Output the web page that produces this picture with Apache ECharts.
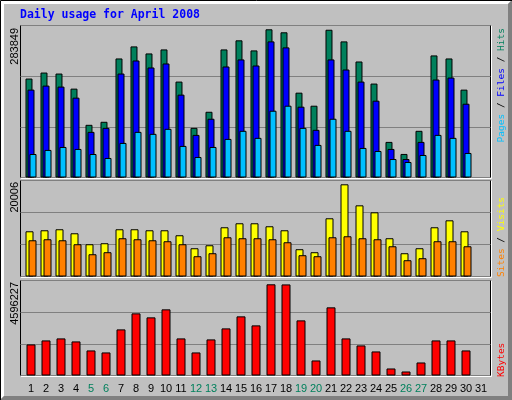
<!DOCTYPE html>
<html>
<head>
<meta charset="utf-8">
<script src="https://cdn.jsdelivr.net/npm/echarts@6/dist/echarts.min.js"></script>
<style>
  html, body { margin: 0; padding: 0; background: #c0c0c0; }
  #chart { width: 512px; height: 400px; }
</style>
</head>
<body>
<div id="chart"></div>
<script>
// daily usage, April 2008 (day 31 has no data)
var days = ['1', '2', '3', '4', '5', '6', '7', '8', '9', '10', '11', '12', '13', '14', '15', '16',
  '17', '18', '19', '20', '21', '22', '23', '24', '25', '26', '27', '28', '29', '30', '31']
var weekend = ['5', '6', '12', '13', '19', '20', '26', '27']

var hits = [189500, 201000, 199100, 170200, 100900, 106700, 228000, 251100, 237600, 245300, 183700,
  95100, 125900, 245300, 262700, 243400, 283849, 278100, 162500, 137500, 283000, 260700, 222200,
  179900, 68200, 45100, 89400, 233800, 228000, 168300, null]
var files = [168300, 176000, 174100, 152900, 87400, 95100, 199100, 224100, 210700, 218400, 158700,
  81600, 112500, 212600, 226100, 214500, 260700, 249200, 135600, 91300, 226100, 206800, 183700,
  147100, 54700, 35400, 68200, 187600, 191400, 141300, null]
var pages = [45000, 52800, 58500, 54700, 45000, 37400, 66200, 87400, 83600, 93200, 60500, 39300,
  58500, 73900, 89400, 75900, 127900, 137500, 95100, 62400, 112500, 89400, 56600, 50800, 35400,
  29700, 43100, 81600, 75900, 47000, null]
var visits = [9810, 10030, 10250, 9380, 7000, 7220, 10250, 10250, 10030, 10030, 8950, 6130, 6780,
  10680, 11550, 11550, 10900, 10030, 5920, 5270, 12630, 20006, 15440, 13930, 8300, 5050, 6130,
  10680, 12190, 9810, null]
var sites = [7860, 8080, 7860, 7000, 4830, 5270, 8300, 8080, 7860, 7650, 7000, 4400, 5050, 8510,
  8300, 8300, 8080, 7430, 4620, 4400, 8510, 8730, 8300, 8080, 6560, 3530, 3970, 7650, 7650, 6560, null]
var kbytes = [1565700, 1767800, 1868800, 1717300, 1262700, 1161700, 2323400, 3131500, 2929500,
  3333500, 1868800, 1161700, 1818300, 2373900, 2980000, 2525400, 4596227, 4590000, 2777900, 757600,
  3434500, 1868800, 1515200, 1212200, 353600, 202000, 656600, 1767800, 1767800, 1262700, null]

var maxOf = function (arr) {
  return Math.max.apply(null, arr.filter(function (v) { return v != null }))
}
var maxHits = maxOf(hits)
var maxVisits = maxOf(visits)
var maxKb = maxOf(kbytes)

// panels: [top, height, axis headroom]
var panels = [
  { top: 25.5, height: 152, max: maxHits * 152 / 148.2 },
  { top: 180.5, height: 96, max: maxVisits * 96 / 92.2 },
  { top: 280.5, height: 95, max: maxKb * 95 / 91.2 }
]

var grids = []
var xAxes = []
var yAxes = []
panels.forEach(function (p, i) {
  // frame grid with the grey index lines
  grids.push({ left: 20.5, top: p.top, width: 470, height: p.height, show: true,
    borderColor: '#000', borderWidth: 1, backgroundColor: 'transparent' })
  xAxes.push({ type: 'value', gridIndex: i * 2, min: 0, max: 1, show: false })
  yAxes.push({ type: 'value', gridIndex: i * 2, min: 0, max: p.max, interval: p.max / 3,
    axisLine: { show: false }, axisTick: { show: false }, axisLabel: { show: false },
    splitLine: { show: true, lineStyle: { color: '#808080', width: 1 } } })
  // bar grid
  grids.push({ left: 23.5, top: p.top, width: 465, height: p.height })
  xAxes.push({
    type: 'category', gridIndex: i * 2 + 1,
    data: days.map(function (d) {
      return { value: d, textStyle: { color: weekend.indexOf(d) >= 0 ? '#00805c' : '#000' } }
    }),
    axisLine: { show: false }, axisTick: { show: false },
    axisLabel: { show: i === 2, interval: 0, margin: 8, fontSize: 11, fontFamily: 'Liberation Sans' }
  })
  yAxes.push({ type: 'value', gridIndex: i * 2 + 1, min: 0, max: p.max, show: false,
    splitLine: { show: false } })
})

var barStyle = function (color) {
  return { color: color, borderColor: '#000', borderWidth: 1 }
}

var sideText = function (x, y, text, anchor) {
  return { type: 'text', x: x, y: y, rotation: Math.PI / 2,
    style: { text: text, font: '11px "Liberation Sans"', fill: '#000', align: anchor, verticalAlign: 'middle' } }
}
var richFont = { fontFamily: 'DejaVu Sans Mono', fontSize: 9.5 }
var legendText = function (x, y, text, rich, anchor) {
  Object.keys(rich).forEach(function (k) { Object.assign(rich[k], richFont) })
  return { type: 'text', x: x, y: y, rotation: Math.PI / 2,
    style: { text: text, rich: rich, fill: '#000', fontFamily: 'DejaVu Sans Mono', fontSize: 9.5,
      align: anchor, verticalAlign: 'middle' } }
}

var option = {
  animation: false,
  backgroundColor: '#c0c0c0',
  grid: grids,
  xAxis: xAxes,
  yAxis: yAxes,
  graphic: [
    // raised window border
    { type: 'polygon', shape: { points: [[0, 0], [512, 0], [508, 4], [4, 4], [4, 396], [0, 400]] },
      style: { fill: '#ffffff' }, z: -10 },
    { type: 'polygon', shape: { points: [[512, 0], [512, 400], [0, 400], [4, 396], [508, 396], [508, 4]] },
      style: { fill: '#808080' }, z: -10 },
    { type: 'polyline', shape: { points: [[0.5, 400], [0.5, 0.5], [512, 0.5]] },
      style: { stroke: '#000', lineWidth: 1, fill: null }, z: -9 },
    // white shadow of the panels
    { type: 'polyline', shape: { points: [[21, 178.5], [491.5, 178.5], [491.5, 26]] },
      style: { stroke: '#fff', lineWidth: 1, fill: null } },
    { type: 'polyline', shape: { points: [[21, 277.5], [491.5, 277.5], [491.5, 181]] },
      style: { stroke: '#fff', lineWidth: 1, fill: null } },
    { type: 'polyline', shape: { points: [[21, 376.5], [491.5, 376.5], [491.5, 281]] },
      style: { stroke: '#fff', lineWidth: 1, fill: null } },
    // title
    { type: 'text', x: 20, y: 15.5,
      style: { text: 'Daily usage for April 2008', font: 'bold 11.5px "DejaVu Sans Mono"',
        fill: '#0000ff', align: 'left', verticalAlign: 'middle' } },
    // maximum values
    sideText(15, 28, String(maxHits), 'right'),
    sideText(15, 182, String(maxVisits), 'right'),
    sideText(15, 282, String(maxKb), 'right'),
    // series names
    legendText(501.5, 28, '{p|Pages} / {f|Files} / {h|Hits}',
      { p: { fill: '#00c0ff' }, f: { fill: '#0000ff' }, h: { fill: '#00805c' } }, 'right'),
    legendText(501.5, 277, '{s|Sites} / {v|Visits}',
      { s: { fill: '#ff8000' }, v: { fill: '#ffff00' } }, 'left'),
    legendText(501.5, 377, '{k|KBytes}', { k: { fill: '#ff0000' } }, 'left')
  ],
  series: [
    { name: 'Hits', type: 'bar', xAxisIndex: 1, yAxisIndex: 1, data: hits,
      barWidth: 7, barGap: '-71.4%', itemStyle: barStyle('#00805c') },
    { name: 'Files', type: 'bar', xAxisIndex: 1, yAxisIndex: 1, data: files,
      barWidth: 7, barGap: '-71.4%', itemStyle: barStyle('#0000ff') },
    { name: 'Pages', type: 'bar', xAxisIndex: 1, yAxisIndex: 1, data: pages,
      barWidth: 7, barGap: '-71.4%', itemStyle: barStyle('#00c0ff') },
    { name: 'Visits', type: 'bar', xAxisIndex: 3, yAxisIndex: 3, data: visits,
      barWidth: 8, barGap: '-62.5%', itemStyle: barStyle('#ffff00') },
    { name: 'Sites', type: 'bar', xAxisIndex: 3, yAxisIndex: 3, data: sites,
      barWidth: 8, barGap: '-62.5%', itemStyle: barStyle('#ff8000') },
    { name: 'KBytes', type: 'bar', xAxisIndex: 5, yAxisIndex: 5, data: kbytes,
      barWidth: 9, itemStyle: barStyle('#ff0000') }
  ]
}

var chart = echarts.init(document.getElementById('chart'))
chart.setOption(option)
</script>
</body>
</html>
